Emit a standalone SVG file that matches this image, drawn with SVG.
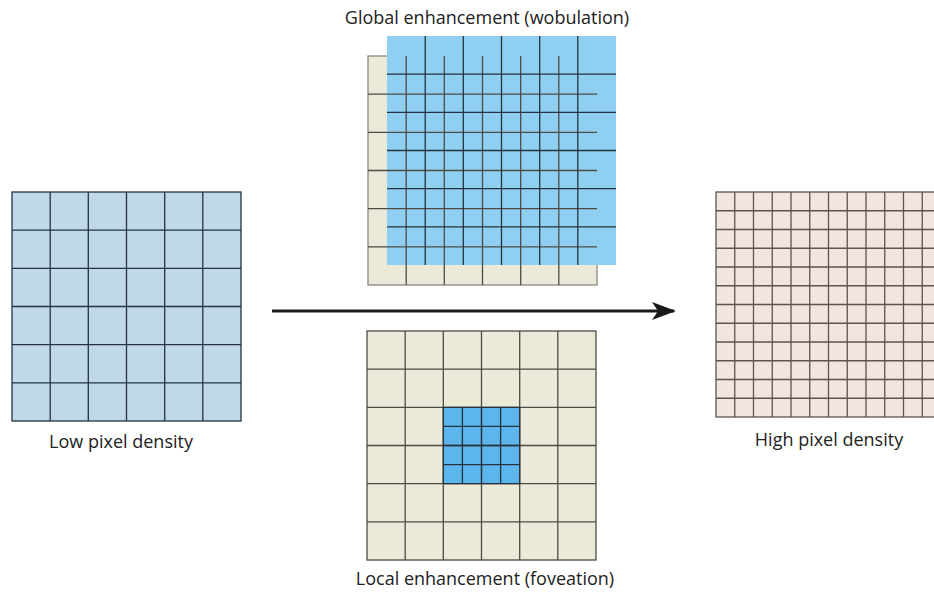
<svg xmlns="http://www.w3.org/2000/svg" width="934" height="594" viewBox="0 0 934 594">
<style>
.lbl{font-family:"Open Sans","Noto Sans","Liberation Sans",sans-serif;font-size:18px;fill:#222;text-anchor:middle}
.gl{stroke-width:1.3}
.navy{stroke:#26333f}
.gray{stroke:#4d4c44}
.brown{stroke:#5e544c}
</style>
<defs>
<marker id="ah" viewBox="0 0 26 20" refX="24" refY="10" markerWidth="26" markerHeight="20" markerUnits="userSpaceOnUse" orient="auto">
<path d="M26,10 L2,1 L8,10 L2,19 Z" fill="#1a1a1a"/>
</marker>
<clipPath id="cv"><rect x="0" y="0" width="934" height="594"/></clipPath>
</defs>
<rect width="934" height="594" fill="#ffffff"/>

<g id="low-density">
<rect x="12" y="192" width="229" height="229" fill="#bfd9e8" class="gl navy"/>
<path fill="none" class="gl navy" d="M50.2,192V421M88.3,192V421M126.5,192V421M164.7,192V421M202.8,192V421M12,230.2H241M12,268.3H241M12,306.5H241M12,344.7H241M12,382.8H241"/>
<text class="lbl" x="121" y="448">Low pixel density</text>
</g>

<g id="global-enhancement">
<rect x="368" y="56" width="229" height="229" fill="#ebe9d8" stroke="#8a897e" stroke-width="1.3"/>
<rect x="387" y="36" width="229" height="229" fill="#8fd0f2"/>
<path fill="none" class="gl gray" d="M406.2,56V285M444.3,56V285M482.5,56V285M520.7,56V285M558.8,56V285M368,94.2H597M368,132.3H597M368,170.5H597M368,208.7H597M368,246.8H597"/>
<path fill="none" class="gl navy" d="M425.2,36V265M463.3,36V265M501.5,36V265M539.7,36V265M577.8,36V265M387,74.2H616M387,112.3H616M387,150.5H616M387,188.7H616M387,226.8H616"/>
<text class="lbl" x="487" y="24">Global enhancement (wobulation)</text>
</g>

<g id="local-enhancement">
<rect x="367" y="331" width="229" height="229" fill="#ebe9d8" class="gl gray"/>
<rect x="443.3" y="407.3" width="76.4" height="76.4" fill="#5cb6ec"/>
<path fill="none" class="gl gray" d="M405.2,331V560M443.3,331V560M481.5,331V560M519.7,331V560M557.8,331V560M367,369.2H596M367,407.3H596M367,445.5H596M367,483.7H596M367,521.8H596"/>
<path fill="none" class="gl navy" d="M443.3,407.3H519.7V483.7H443.3ZM462.4,407.3V483.7M481.5,407.3V483.7M500.6,407.3V483.7M443.3,426.4H519.7M443.3,445.5H519.7M443.3,464.6H519.7"/>
<text class="lbl" x="485" y="585">Local enhancement (foveation)</text>
</g>

<g id="high-density" clip-path="url(#cv)">
<rect x="716" y="192" width="225" height="225" fill="#f1e6df" class="gl brown"/>
<path fill="none" class="gl brown" d="M734.75,192V417M753.5,192V417M772.25,192V417M791,192V417M809.75,192V417M828.5,192V417M847.25,192V417M866,192V417M884.75,192V417M903.5,192V417M922.25,192V417M716,210.75H941M716,229.5H941M716,248.25H941M716,267H941M716,285.75H941M716,304.5H941M716,323.25H941M716,342H941M716,360.75H941M716,379.5H941M716,398.25H941"/>
<text class="lbl" x="829" y="446">High pixel density</text>
</g>

<g id="connectors">
<line x1="272" y1="311" x2="674" y2="311" stroke="#1a1a1a" stroke-width="3" marker-end="url(#ah)"/>
</g>
</svg>
